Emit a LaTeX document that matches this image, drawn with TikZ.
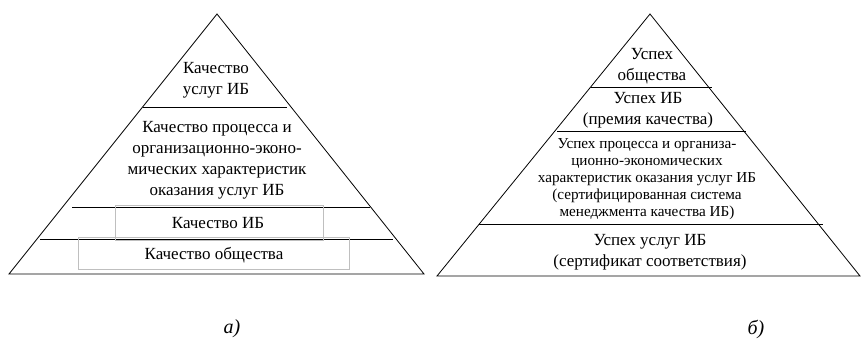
\documentclass[tikz,border=0pt]{standalone}
\usepackage{fontspec}
\setmainfont{Liberation Serif}
\usetikzlibrary{positioning}

\begin{document}
\begin{tikzpicture}[
    x=1pt, y=-1pt,
    edge/.style={line width=0.8pt},
    level/.style={line width=1pt},
    txt/.style={align=center, font=\fontsize{17}{21}\selectfont, inner sep=0pt},
    smalltxt/.style={align=center, font=\fontsize{15.2}{17}\selectfont, inner sep=0pt},
    graybox/.style={draw=black!25, line width=0.8pt},
    caption/.style={font=\fontsize{20}{22}\selectfont\itshape, inner sep=0pt}
]
\useasboundingbox (0,0) rectangle (861,351);

% Left pyramid (a)
\coordinate (la) at (217,14);
\coordinate (ll) at (9,274);
\coordinate (lr) at (424,274);
\draw[edge] (la) -- (ll) -- (lr) -- cycle;
\draw[level] (143,107) -- (287,107);
\draw[level] (72,207) -- (370,207);
\draw[level] (40,239) -- (393,239);

\draw[graybox] (115,205) rectangle (323,240);
\draw[graybox] (78,237) rectangle (349,269);

\node[txt] (q1) at (216,80) {Качество\\услуг ИБ};
\node[txt] (q2) at (217,160) {Качество процесса и\\организационно-эконо-\\мических характеристик\\оказания услуг ИБ};
\node[txt] (q3) at (218,223) {Качество ИБ};
\node[txt] (q4) at (214,255) {Качество общества};

% Right pyramid (b)
\coordinate (ra) at (650,14);
\coordinate (rl) at (437,276);
\coordinate (rr) at (860,276);
\draw[edge] (ra) -- (rl) -- (rr) -- cycle;
\draw[level] (591,87) -- (712,87);
\draw[level] (557,131) -- (746,131);
\draw[level] (479,224) -- (823,224);

\node[txt] (s1) at (652,66) {Успех\\общества};
\node[txt] (s2) at (648,110) {Успех ИБ\\(премия качества)};
\node[smalltxt] (s3) at (647,179) {Успех процесса и организа-\\ционно-экономических\\характеристик оказания услуг ИБ\\(сертифицированная система\\менеджмента качества ИБ)};
\node[txt] (s4) at (650,252) {Успех услуг ИБ\\(сертификат соответствия)};

% Captions
\node[caption] (ca) at (232,329) {а)};
\node[caption] (cb) at (756,329) {б)};
\end{tikzpicture}
\end{document}
